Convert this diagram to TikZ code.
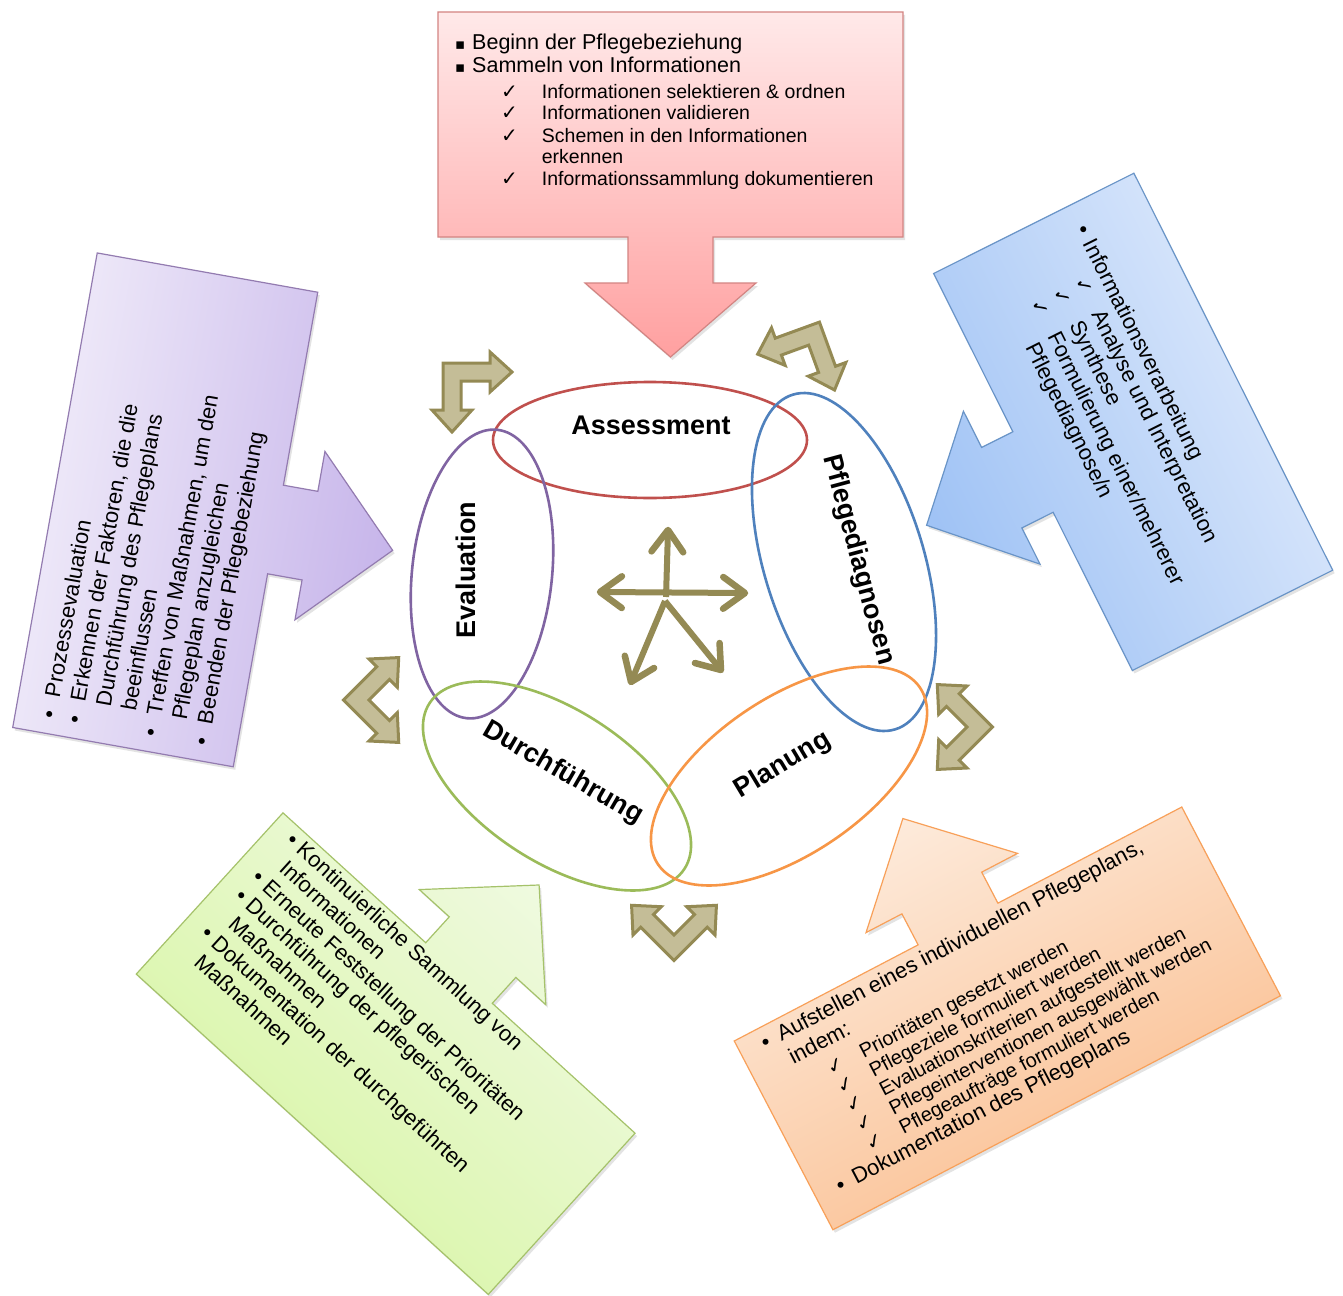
\documentclass[tikz,border=0pt]{standalone}
\usepackage{fontspec}
\setmainfont{Liberation Sans}
\newfontfamily\symfont{DejaVu Sans}
\usetikzlibrary{calc,shadows}

\definecolor{tanline}{RGB}{148,138,84}
\definecolor{tanfill}{RGB}{196,189,151}
\definecolor{asred}{RGB}{192,80,77}
\definecolor{pdblue}{RGB}{79,129,189}
\definecolor{plorange}{RGB}{247,150,70}
\definecolor{dfgreen}{RGB}{155,187,89}
\definecolor{evpurple}{RGB}{128,100,162}
\definecolor{redlight}{RGB}{255,233,233}
\definecolor{reddark}{RGB}{255,160,160}
\definecolor{bluelight}{RGB}{226,236,252}
\definecolor{bluedark}{RGB}{160,195,245}
\definecolor{purplelight}{RGB}{242,238,250}
\definecolor{purpledark}{RGB}{198,180,234}
\definecolor{greenlight}{RGB}{240,250,226}
\definecolor{greendark}{RGB}{214,245,160}
\definecolor{orangelight}{RGB}{253,235,220}
\definecolor{orangedark}{RGB}{250,188,140}

\newcommand{\chksize}{20}
\newcommand{\chk}{\smash{\symfont\fontsize{\chksize}{\chksize}\selectfont ✓}}
\newcommand{\sqb}{{\symfont\fontsize{15}{15}\selectfont ▪}}
\newcommand{\cl}[1]{\hspace*{46pt}\makebox[37pt][l]{\chk}#1}

% callout: box W x H above the origin, stem and head below it
% #1 W, #2 H, #3 stem length, #4 stem half width, #5 head half width, #6 head length
\newcommand{\calloutpath}[6]{(-#1/2,-#2) -- (#1/2,-#2) -- (#1/2,0) -- (#4,0) -- (#4,#3) -- (#5,#3) -- (0,#3+#6) -- (-#5,#3) -- (-#4,#3) -- (-#4,0) -- (-#1/2,0) -- cycle}
% bent double arrow, outer corner near the origin, arms along +x and +y
\newcommand{\bentpath}{(11,11) -- (58,11) -- (58,0) -- (80,20) -- (58,40) -- (58,29) -- (29,29) -- (29,58) -- (40,58) -- (20,80) -- (0,58) -- (11,58) -- cycle}
% open V head at #1, opening back toward #2
\newcommand{\vhead}[2]{\draw[starhead] ($(#1)!27pt!-36:(#2)$) -- (#1) -- ($(#1)!27pt!36:(#2)$);}

\tikzset{
  callout/.style={line width=1.2pt, drop shadow={opacity=0.22, shadow xshift=2pt, shadow yshift=-3pt}},
  bent/.style={draw=tanline, fill=tanfill, line width=3pt, line join=miter},
  star/.style={draw=tanline, line width=6pt},
  starhead/.style={draw=tanline, line width=6.5pt, line cap=round, line join=round},
  phase/.style={line width=2.6pt},
  phaselabel/.style={font=\fontsize{27}{30}\selectfont\bfseries, inner sep=0},
  boxtext/.style={inner sep=0, align=left, anchor=north west, font=\fontsize{22}{25}\selectfont},
}

\begin{document}
\begin{tikzpicture}[x=1pt,y=-1pt]
\useasboundingbox (0,0) rectangle (1343,1295);
\fill[white] (0,0) rectangle (1343,1295);

% ---------- callouts ----------
% Assessment (top)
\begin{scope}[shift={(670.5,237)}]
  \path[callout, draw=asred!70, top color=redlight, bottom color=reddark] \calloutpath{465}{225}{46}{42.5}{85.5}{74};
\end{scope}
\node[boxtext, font=\fontsize{19.5}{22}\selectfont] (assesstext) at (455,34) {%
\renewcommand{\chksize}{26}%
{\fontsize{21.5}{22}\selectfont\makebox[17pt][l]{\sqb}Beginn der Pflegebeziehung}\\[1pt]
{\fontsize{21.5}{22}\selectfont\makebox[17pt][l]{\sqb}Sammeln von Informationen}\\[3.5pt]
\hspace*{46pt}\makebox[40.7pt][l]{\chk}Informationen selektieren \& ordnen\\[-1pt]
\hspace*{46pt}\makebox[40.7pt][l]{\chk}Informationen validieren\\[1pt]
\hspace*{46pt}\makebox[40.7pt][l]{\chk}Schemen in den Informationen\\[-1pt]
\hspace*{86.7pt}erkennen\\
\hspace*{46pt}\makebox[40.7pt][l]{\chk}Informationssammlung dokumentieren};

% Pflegediagnosen (right)
\begin{scope}[shift={(1033,472)}, rotate=-63.4]
  \path[callout, draw=pdblue!85, top color=bluelight, bottom color=bluedark, shading angle=-63.4] \calloutpath{444}{224}{35}{45}{85.5}{84};
  \node[boxtext, font=\fontsize{22}{24.5}\selectfont, rotate=-63.4] (diagtext) at (-198,-163) {%
\makebox[16pt][l]{•}Informationsverarbeitung\\
\cl{Analyse und Interpretation}\\
\cl{Synthese}\\
\cl{Formulierung einer/mehrerer}\\
\hspace*{83pt}Pflegediagnose/n};
\end{scope}

% Evaluation (left)
\begin{scope}[shift={(275.5,529.5)}, rotate=79.9]
  \path[callout, draw=evpurple!85, top color=purplelight, bottom color=purpledark, shading angle=79.9] \calloutpath{482}{224}{35}{45}{85.5}{84};
  \node[boxtext, font=\fontsize{22}{25.8}\selectfont, rotate=79.9] (evaltext) at (-226,-199) {%
\makebox[22pt][l]{•}Prozessevaluation\\
\makebox[22pt][l]{•}Erkennen der Faktoren, die die\\
\hspace*{22pt}Durchführung des Pflegeplans\\
\hspace*{22pt}beeinflussen\\
\makebox[22pt][l]{•}Treffen von Maßnahmen, um den\\
\hspace*{22pt}Pflegeplan anzugleichen\\
\makebox[22pt][l]{•}Beenden der Pflegebeziehung};
\end{scope}

% Durchführung (bottom left)
\begin{scope}[shift={(459,973)}, rotate=137.7]
  \path[callout, draw=dfgreen!90, top color=greendark, bottom color=greenlight, shading angle=137.7] \calloutpath{476}{218}{35}{45}{85.5}{84};
  \node[boxtext, font=\fontsize{22}{25.3}\selectfont, rotate=-42.3] (durchtext) at (217,-4.5) {%
\makebox[14pt][l]{•}Kontinuierliche Sammlung von\\
\hspace*{14pt}Informationen\\
\makebox[14pt][l]{•}Erneute Feststellung der Prioritäten\\
\makebox[14pt][l]{•}Durchführung der pflegerischen\\
\hspace*{14pt}Maßnahmen\\
\makebox[14pt][l]{•}Dokumentation der durchgeführten\\
\hspace*{14pt}Maßnahmen};
\end{scope}

% Planung (bottom right)
\begin{scope}[shift={(958,924)}, rotate=207.6]
  \path[callout, draw=plorange!90, top color=orangedark, bottom color=orangelight, shading angle=207.6] \calloutpath{505}{213}{35}{45}{85.5}{84};
  \node[boxtext, font=\fontsize{20}{21.5}\selectfont, rotate=27.6] (plantext) at (229,-6.5) {%
\renewcommand{\chksize}{24}%
{\fontsize{22}{22}\selectfont\makebox[18pt][l]{•}Aufstellen eines individuellen Pflegeplans,}\\[4pt]
{\fontsize{22}{22}\selectfont\hspace*{18pt}indem:}\\[6pt]
\cl{Prioritäten gesetzt werden}\\
\cl{Pflegeziele formuliert werden}\\
\cl{Evaluationskriterien aufgestellt werden}\\
\cl{Pflegeinterventionen ausgewählt werden}\\
\cl{Pflegeaufträge formuliert werden}\\[1pt]
{\fontsize{22}{22}\selectfont\makebox[18pt][l]{•}Dokumentation des Pflegeplans}};
\end{scope}

% ---------- phase ellipses ----------
\draw[phase, asred]    (650,440) ellipse [x radius=157, y radius=58];
\draw[phase, evpurple, shift={(482,574)}, rotate=-6] (0,0) ellipse [x radius=70, y radius=145];
\draw[phase, pdblue,   shift={(844,562)}, rotate=17] (0,0) ellipse [x radius=80, y radius=175];
\draw[phase, dfgreen,  shift={(557,786)}, rotate=-33] (0,0) ellipse [x radius=152, y radius=76];
\draw[phase, plorange, shift={(789,776)}, rotate=34] (0,0) ellipse [x radius=158, y radius=78];

\node[phaselabel] (assess) at (651,425) {Assessment};
\node[phaselabel, rotate=90] (eval) at (466,570) {Evaluation};
\node[phaselabel, rotate=-75] (diag) at (858,560) {Pflegediagnosen};
\node[phaselabel, rotate=31] (plan) at (783,765) {Planung};
\node[phaselabel, rotate=-30] (durch) at (563,773) {Durchführung};

% ---------- bent double arrows between phases ----------
\path[bent, shift={(432,352)}] \bentpath;
\path[bent, shift={(826,308)}, rotate=-70] \bentpath;
\path[bent, shift={(328,700)}, rotate=45] \bentpath;
\path[bent, shift={(1008,727)}, rotate=-135] \bentpath;
\path[bent, shift={(674,976)}, rotate=135] \bentpath;

% ---------- central star of arrows ----------
\coordinate (sc) at (666,597);
\coordinate (sc2) at (665,601);
\coordinate (sup) at (668,530);
\coordinate (sl) at (600,592);
\coordinate (sr) at (745,593);
\coordinate (sdl) at (631,682);
\coordinate (sdr) at (721,670);
\draw[star] (sc) -- (sup);
\draw[star] (sl) -- (sr);
\draw[star] (sc2) -- (sdl);
\draw[star] (sc2) -- (sdr);
\vhead{sup}{sc}
\vhead{sl}{sr}
\vhead{sr}{sl}
\vhead{sdl}{sc2}
\vhead{sdr}{sc2}
\end{tikzpicture}
\end{document}
